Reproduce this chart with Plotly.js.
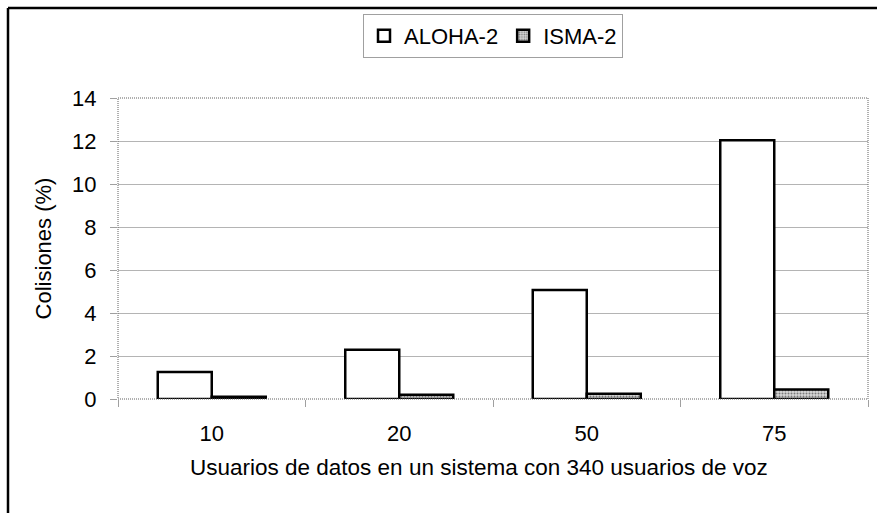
<!DOCTYPE html>
<html>
<head>
<meta charset="utf-8">
<script src="https://cdn.plot.ly/plotly-3.0.1.min.js"></script>
<style>html,body{margin:0;padding:0;background:#fff;}#chart{width:877px;height:513px;}</style>
</head>
<body>
<div id="chart"></div>
<script>
const categories = ["10", "20", "50", "75"];
const alohaValues = [1.26, 2.29, 5.07, 12.03];
const ismaValues = [0.1, 0.2, 0.25, 0.44];
const yTicks = [0, 2, 4, 6, 8, 10, 12, 14];
const seriesNames = ["ALOHA-2", "ISMA-2"];
const xTitle = "Usuarios de datos en un sistema con 340 usuarios de voz";
const yTitle = "Colisiones (%)";

const W = 877, H = 513, L = 118, R = 868, T = 98, B = 399;
const px = x => (x - L) / (R - L);
const py = y => (B - y) / (B - T);
const font = {family: "Liberation Sans, Arial, sans-serif", size: 22, color: "#000"};

const data = [
  {type: "bar", name: seriesNames[0], x: categories, y: alohaValues,
   marker: {color: "#ffffff", line: {color: "#000", width: 2.5}}},
  {type: "bar", name: seriesNames[1], x: categories, y: ismaValues,
   marker: {color: "#c8c8c8", line: {color: "#000", width: 2.5},
            pattern: {shape: ".", fgcolor: "#7a7a7a", bgcolor: "#d8d8d8", size: 3, solidity: 0.35}}}
];

const layout = {
  width: W, height: H,
  margin: {l: L, r: W - R, t: T, b: H - B, pad: 0},
  paper_bgcolor: "#fff", plot_bgcolor: "#fff",
  font: font,
  barmode: "group", bargap: 0.424, bargroupgap: 0,
  showlegend: true,
  legend: {orientation: "h", x: 0.5, xanchor: "center", y: py(14), yanchor: "top",
           bordercolor: "#a0a0a0", borderwidth: 1, bgcolor: "#fff", font: font,
           traceorder: "normal", itemwidth: 30},
  xaxis: {type: "category", tickson: "boundaries", ticks: "outside", ticklen: 7, tickcolor: "#a0a0a0",
          showgrid: false, showline: false, zeroline: false, ticklabelstandoff: 19},
  yaxis: {range: [0, 14], tickvals: yTicks, ticks: "outside", ticklen: 7, tickcolor: "#a0a0a0",
          showgrid: true, gridcolor: "#b4b4b4", gridwidth: 1, zeroline: false, showline: false,
          ticklabelstandoff: 9,
          title: {text: yTitle, font: font, standoff: 14}},
  annotations: [
    {text: xTitle, xref: "paper", yref: "paper", x: px(479), y: py(467.5),
     xanchor: "center", yanchor: "middle", showarrow: false,
     font: {family: font.family, size: 22.5, color: "#000"}}
  ],
  shapes: [
    {type: "rect", xref: "paper", yref: "paper", x0: 0, x1: 1, y0: 0, y1: 1,
     line: {color: "#606060", width: 1, dash: "1px,1px"}, layer: "above"},
    {type: "line", xref: "paper", yref: "paper", x0: px(8), x1: px(8), y0: py(8), y1: py(H + 2),
     line: {color: "#000", width: 2.5}},
    {type: "line", xref: "paper", yref: "paper", x0: px(8), x1: px(W + 2), y0: py(8), y1: py(8),
     line: {color: "#000", width: 2.5}}
  ]
};

Plotly.newPlot("chart", data, layout, {displayModeBar: false, staticPlot: true});
</script>
</body>
</html>
